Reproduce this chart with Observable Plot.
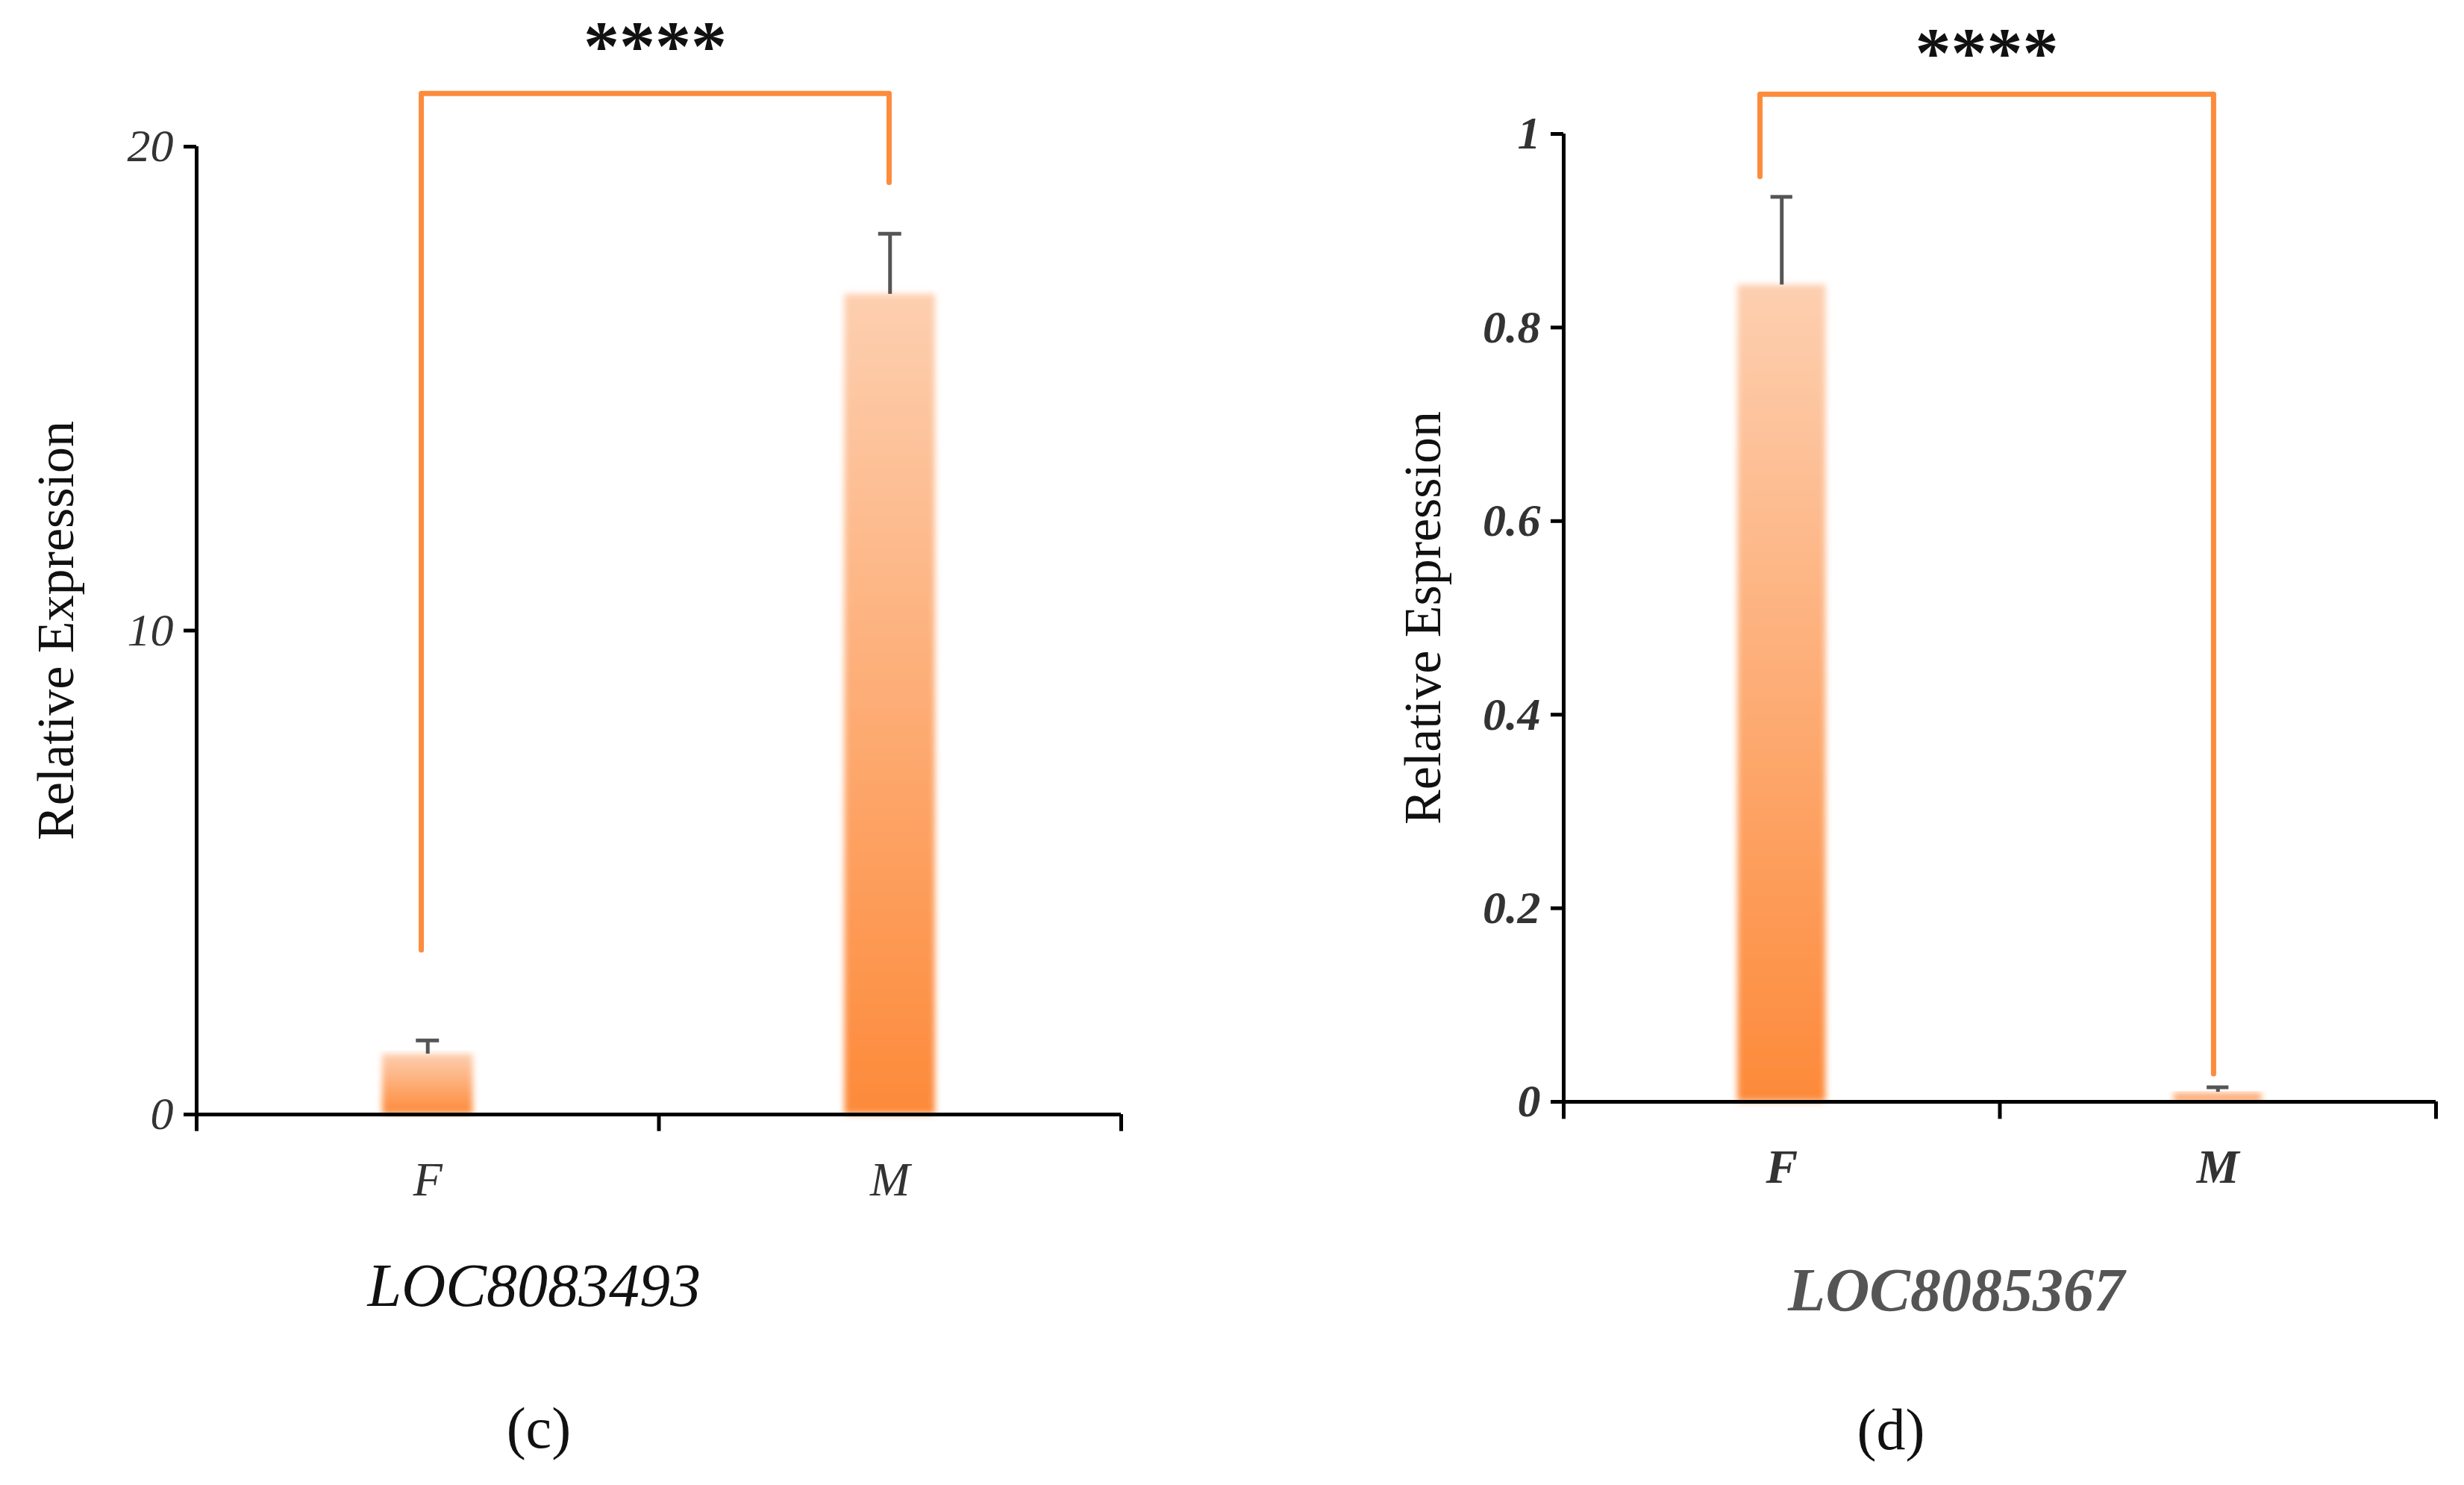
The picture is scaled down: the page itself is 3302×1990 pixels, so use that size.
<!DOCTYPE html>
<html><head><meta charset="utf-8">
<script src="https://cdn.jsdelivr.net/npm/d3@7"></script>
<script src="https://cdn.jsdelivr.net/npm/@observablehq/plot@0.6"></script>
<style>body{margin:0;background:#fff}#wrap{position:relative;width:3302px;height:1990px}#a,#b{position:absolute;top:0}#a{left:0}#b{left:1650px}</style>
</head><body><div id="wrap"><div id="a"></div><div id="b"></div></div>
<script>
const categories = ["F","M"];
const valuesC = [1.25, 16.95];
const errorsC = [1.53, 18.2];
const valuesD = [0.844, 0.01];
const errorsD = [0.935, 0.015];
const ticksC = [0,10,20];
const ticksD = [0,0.2,0.4,0.6,0.8,1];

function chart(o){
  const data = categories.map((c,i)=>({c, x:i+0.5, v:o.vals[i], e:o.errs[i]}));
  const font = "Liberation Serif";
  const p = Plot.plot({
    width:o.width, height:1990, marginLeft:o.ml, marginRight:o.mr, marginTop:o.mt, marginBottom:o.mb,
    style:{fontFamily:font, background:"white", overflow:"visible"},
    x:{domain:[0,2], axis:null},
    y:{domain:o.ydom, ticks:o.ticks, tickSize:17, tickPadding:14, tickFormat:o.fmt,
       label:o.ylabel, labelAnchor:"center", labelArrow:"none", labelOffset:o.lo},
    marks:[
      Plot.rectY(data,{x1:d=>d.x-o.bw, x2:d=>d.x+o.bw, y:"v", fill:"url(#grad"+o.id+")", className:"bar"+o.id}),
      Plot.ruleX(data,{x:"x", y1:"v", y2:"e", stroke:"#555", strokeWidth:5}),
      Plot.ruleY(data,{x1:d=>d.x-0.025, x2:d=>d.x+0.025, y:"e", stroke:"#555", strokeWidth:5}),
      Plot.ruleX([0],{stroke:"black", strokeWidth:5}),
      Plot.ruleY([0],{stroke:"black", strokeWidth:5}),
      Plot.ruleX([0,1,2],{y1:0, y2:o.tickDown, stroke:"black", strokeWidth:5}),
      Plot.text(data,{x:"x", y:o.catY, text:"c", fontSize:64, fontStyle:"italic", fontWeight:o.bold, fill:"#333"}),
      Plot.line([[o.bx[0],o.by[0]],[o.bx[0],o.by[1]],[o.bx[1],o.by[1]],[o.bx[1],o.by[2]]],{stroke:"#fc8c3c", strokeWidth:7}),
      Plot.text([0],{x:(o.bx[0]+o.bx[1])/2, y:o.starY, text:["****"], fontSize:96, fontWeight:"bold", fill:"#111"}),
      Plot.text([0],{x:o.geneX, y:o.geneY, text:[o.gene], fontSize:82, fontStyle:"italic", fontWeight:o.bold, fill:o.geneFill}),
      Plot.text([0],{x:o.panX, y:o.panY, text:[o.panel], fontSize:78, fill:"#111"})
    ]
  });
  p.querySelectorAll('[aria-label="y-axis tick label"] text').forEach(t=>{t.style.fontSize="62px";t.style.fontStyle="italic";t.style.fontWeight=o.bold;t.style.fill="#333"});
  p.querySelectorAll('[aria-label="y-axis label"] text').forEach(t=>{t.style.fontSize="70px";t.style.fill="#111"});
  p.querySelectorAll('[aria-label="y-axis tick"] path').forEach(t=>{t.setAttribute("stroke-width","5");t.setAttribute("stroke","black")});
  const ns="http://www.w3.org/2000/svg";
  const defs=document.createElementNS(ns,"defs");
  defs.innerHTML=`<linearGradient id="grad${o.id}" x1="0" y1="0" x2="0" y2="1"><stop offset="0" stop-color="#fdcfb0"/><stop offset="1" stop-color="#fd8a3a"/></linearGradient><filter id="blur${o.id}" x="-20%" y="-5%" width="140%" height="110%"><feGaussianBlur stdDeviation="4"/></filter>`;
  p.insertBefore(defs,p.firstChild);
  p.querySelectorAll('.bar'+o.id+' rect, g.bar'+o.id+' rect').forEach(r=>r.setAttribute("filter","url(#blur"+o.id+")"));
  return p;
}

document.getElementById("a").appendChild(chart({id:"c", width:1650, ml:263, mr:148, mt:196, mb:497,
  vals:valuesC, errs:errorsC, ydom:[0,20], ticks:ticksC, fmt:d3.format("d"), ylabel:"Relative Expression", lo:215,
  bw:0.098, tickDown:-0.35, catY:-1.35, bold:"normal", bx:[0.486,1.498], by:[3.4,21.1,19.26], starY:22.05,
  gene:"LOC8083493", geneX:0.73, geneY:-3.55, geneFill:"#111", panel:"(c)", panX:0.74, panY:-6.5}));
document.getElementById("b").appendChild(chart({id:"d", width:1652, ml:445, mr:38, mt:179, mb:514,
  vals:valuesD, errs:errorsD, ydom:[0,1], ticks:ticksD, fmt:d=>String(d), ylabel:"Relative Espression", lo:215,
  bw:0.101, tickDown:-0.018, catY:-0.068, bold:"bold", bx:[0.45,1.49], by:[0.956,1.041,0.029], starY:1.083,
  gene:"LOC8085367", geneX:0.9, geneY:-0.195, geneFill:"#555", panel:"(d)", panX:0.75, panY:-0.34}));
</script></body></html>
